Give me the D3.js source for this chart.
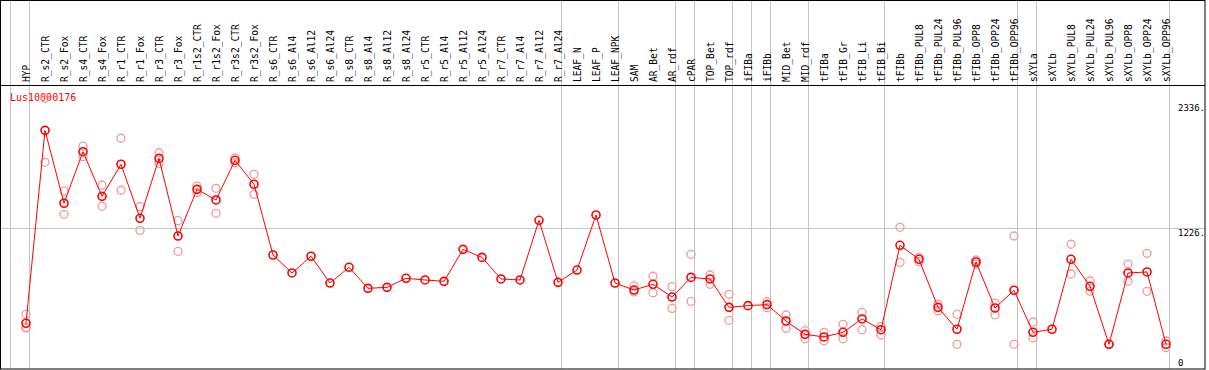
<!DOCTYPE html>
<html>
<head>
<meta charset="utf-8">
<script src="https://cdn.jsdelivr.net/npm/d3@7"></script>
<style>
    body { margin: 0; background: #fff; }
    text { font-family: "DejaVu Sans Mono", monospace; }
</style>
</head>
<body>
<script>
// chart data
let geneName = "Lus10000176"

let samples = ["HYP", "R_s2_CTR", "R_s2_Fox", "R_s4_CTR", "R_s4_Fox", "R_r1_CTR", "R_r1_Fox",
    "R_r3_CTR", "R_r3_Fox", "R_r1s2_CTR", "R_r1s2_Fox", "R_r3s2_CTR", "R_r3s2_Fox",
    "R_s6_CTR", "R_s6_Al4", "R_s6_Al12", "R_s6_Al24", "R_s8_CTR", "R_s8_Al4", "R_s8_Al12", "R_s8_Al24",
    "R_r5_CTR", "R_r5_Al4", "R_r5_Al12", "R_r5_Al24", "R_r7_CTR", "R_r7_Al4", "R_r7_Al12", "R_r7_Al24",
    "LEAF_N", "LEAF_P", "LEAF_NPK", "SAM", "AR_Bet", "AR_rdf", "cPAR", "TOP_Bet", "TOP_rdf",
    "iFIBa", "iFIBb", "MID_Bet", "MID_rdf", "tFIBa", "tFIB_Gr", "tFIB_Li", "tFIB_Bi",
    "tFIBb", "tFIBb_PUL8", "tFIBb_PUL24", "tFIBb_PUL96", "tFIBb_OPP8", "tFIBb_OPP24", "tFIBb_OPP96",
    "sXYLa", "sXYLb", "sXYLb_PUL8", "sXYLb_PUL24", "sXYLb_PUL96", "sXYLb_OPP8", "sXYLb_OPP24", "sXYLb_OPP96"]

let means = [387, 2094, 1449, 1905, 1510, 1794, 1316, 1846, 1159, 1572, 1478, 1829, 1617,
    991, 832, 980, 743, 882, 696, 705, 785, 770, 758, 1041, 970, 779, 770, 1298, 749,
    858, 1345, 743, 681, 732, 619, 793, 779, 528, 543, 552, 407, 289, 266, 307, 425, 330,
    1077, 953, 528, 334, 929, 522, 679, 307, 334, 953, 714, 201, 832, 841, 201]

// replicate values per sample (empty when hidden under the mean)
let replicates = [[466, 345, 350], [1811, 2378], [1557, 1351], [1955, 1860], [1608, 1422], [2024, 1564], [1419, 1209],
    [1896, 1802], [1295, 1023], [1601, 1542], [1581, 1360], [1808, 1850], [1705, 1528],
    [], [], [], [], [], [], [], [], [], [], [], [], [], [], [], [],
    [], [], [], [717, 664], [803, 658], [711, 519], [997, 581], [814, 732], [643, 413],
    [], [578, 525], [460, 342], [321, 250], [307, 233], [378, 250], [484, 330], [357, 283],
    [1236, 926], [970, 932], [557, 498], [466, 201], [947, 911], [566, 463], [1159, 201],
    [398, 257], [], [1086, 823], [761, 670], [201, 201], [911, 758], [1006, 670], [230, 171]]

// last sample of each group, a grey divider follows it
let groupEnds = ["HYP", "R_r7_Al24", "LEAF_NPK", "AR_rdf", "cPAR", "TOP_rdf", "iFIBa", "iFIBb",
    "MID_rdf", "tFIB_Bi", "tFIBb_OPP96", "sXYLa", "sXYLb_OPP96"]

let tickValues = [2336, 1226, 0]
let tickLabels = ["2336.", "1226.", "0"]

// setup canvas
let width = 1209
let height = 370
let headerBottom = 85.5
let plotBottom = 369

let svg = d3.select("body").append("svg")
    .attr("width", width)
    .attr("height", height)
    .attr("class", "canvas")

let x = d3.scaleBand()
    .domain(samples)
    .range([11, 1170])
let cx = d => x(d) + 15

let y = d3.scaleLinear()
    .domain([0, 2336])
    .range([367, 103])

// grey horizontal grid line
svg.append("line")
    .attr("x1", 1).attr("x2", 1205)
    .attr("y1", Math.round(y(1226)) + 0.5).attr("y2", Math.round(y(1226)) + 0.5)
    .attr("stroke", "#c4c4c4")

// grey group dividers
let dividers = [x(samples[0]) - 0.5].concat(groupEnds.map(s => x(s) + x.step() - 0.5))
svg.append("g")
    .selectAll("line")
    .data(dividers)
    .enter()
    .append("line")
        .attr("x1", d => d).attr("x2", d => d)
        .attr("y1", 0).attr("y2", plotBottom)
        .attr("stroke", "#c4c4c4")

// frame and header line
svg.append("rect")
    .attr("x", 0.5).attr("y", 0.5)
    .attr("width", 1204.5).attr("height", plotBottom - 0.5)
    .attr("fill", "none")
    .attr("stroke", "black")
svg.append("line")
    .attr("x1", 0).attr("x2", 1205)
    .attr("y1", headerBottom).attr("y2", headerBottom)
    .attr("stroke", "black")

// rotated sample labels
svg.append("g")
    .selectAll("text")
    .data(samples)
    .enter()
    .append("text")
        .attr("transform", d => "translate(" + (cx(d) + 3.5) + ",82) rotate(-90)")
        .attr("font-size", "9.6px")
        .attr("fill", "black")
        .text(d => d)

// gene name
svg.append("text")
    .attr("x", 10).attr("y", 101)
    .attr("font-size", "10px")
    .attr("fill", "red")
    .text(geneName)

// right value labels
svg.append("g")
    .selectAll("text")
    .data(tickValues)
    .enter()
    .append("text")
        .attr("x", 1178)
        .attr("y", (d, i) => d == 0 ? y(d) - 1 : y(d) + 8)
        .attr("font-size", "9px")
        .attr("fill", "black")
        .text((d, i) => tickLabels[i])

// replicate circles
let repPoints = []
samples.forEach((s, i) => replicates[i].forEach(v => repPoints.push({ s: s, v: v })))
svg.append("g")
    .selectAll("circle")
    .data(repPoints)
    .enter()
    .append("circle")
        .attr("cx", d => cx(d.s))
        .attr("cy", d => y(d.v))
        .attr("r", 4)
        .attr("fill", "none")
        .attr("stroke", "#f09a9a")
        .attr("stroke-width", 1.3)

// mean line
let line = d3.line()
    .x((d, i) => cx(samples[i]))
    .y(d => y(d))
svg.append("path")
    .datum(means)
    .attr("d", line)
    .attr("fill", "none")
    .attr("stroke", "red")
    .attr("stroke-width", 1)

// mean markers
svg.append("g")
    .selectAll("circle")
    .data(means)
    .enter()
    .append("circle")
        .attr("cx", (d, i) => cx(samples[i]))
        .attr("cy", d => y(d))
        .attr("r", 4)
        .attr("fill", "none")
        .attr("stroke", "red")
        .attr("stroke-width", 1.6)
</script>
</body>
</html>
